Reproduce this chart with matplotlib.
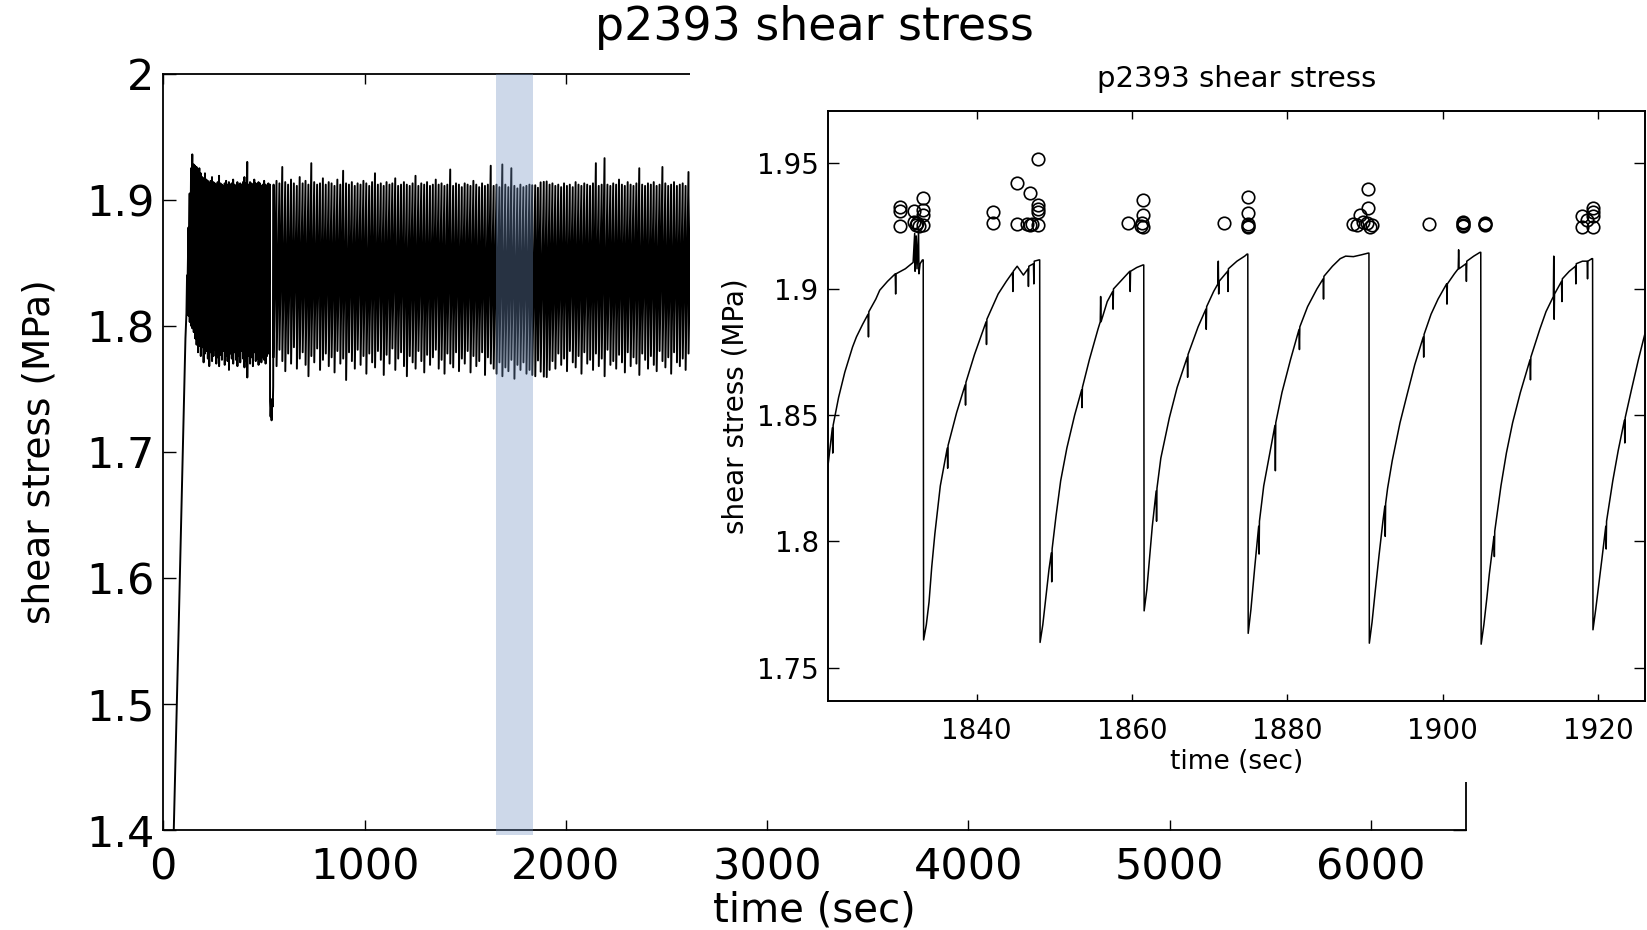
import numpy as np
import matplotlib
matplotlib.use("Agg")
import matplotlib.pyplot as plt
from matplotlib.patches import Rectangle

# ---------------- data ----------------
# initial loading ramp (sec, MPa)
load_t = [52, 64, 76, 88, 98, 104, 110, 115]
load_v = [1.400, 1.478, 1.558, 1.640, 1.705, 1.750, 1.790, 1.810]

# early stick-slip block: slip time, stress before slip, stress after slip
early_t = [118, 125, 131, 138, 144, 151, 158, 165, 172, 179,
           186, 193, 200, 207, 214, 221, 228, 235, 242, 249,
           256, 263, 270, 277, 284, 291, 298, 305, 312, 319,
           326, 333, 340, 347, 354, 361, 368, 375, 382, 389,
           396, 403, 410, 417, 424, 431, 438, 445, 452, 459,
           466, 473, 480, 487, 494, 501, 508, 515, 522, 530]
early_peak = [1.840, 1.878, 1.905, 1.925, 1.936, 1.928, 1.927, 1.926, 1.924, 1.925,
              1.921, 1.918, 1.917, 1.921, 1.916, 1.915, 1.913, 1.915, 1.918, 1.914,
              1.913, 1.912, 1.914, 1.919, 1.913, 1.912, 1.911, 1.913, 1.915, 1.912,
              1.914, 1.912, 1.913, 1.916, 1.912, 1.911, 1.914, 1.912, 1.913, 1.912,
              1.914, 1.918, 1.913, 1.930, 1.912, 1.914, 1.913, 1.912, 1.916, 1.913,
              1.912, 1.914, 1.913, 1.911, 1.912, 1.915, 1.912, 1.911, 1.913, 1.912]
early_trough = [1.812, 1.808, 1.803, 1.800, 1.798, 1.795, 1.790, 1.785, 1.779, 1.784,
                1.776, 1.783, 1.771, 1.778, 1.780, 1.774, 1.768, 1.779, 1.772, 1.776,
                1.781, 1.770, 1.775, 1.768, 1.777, 1.773, 1.780, 1.769, 1.776, 1.772,
                1.765, 1.778, 1.774, 1.770, 1.779, 1.773, 1.768, 1.776, 1.771, 1.780,
                1.774, 1.767, 1.772, 1.759, 1.776, 1.770, 1.775, 1.768, 1.779, 1.772,
                1.774, 1.769, 1.777, 1.771, 1.775, 1.773, 1.770, 1.776, 1.778, 1.740]

# stress dip around 530-546 s
dip_t = [533, 536, 538, 541, 544, 546]
dip_v = [1.728, 1.738, 1.725, 1.742, 1.736, 1.752]

# later stick-slip block
late_t = [548.0, 562.5, 577.0, 591.2, 605.9, 620.1, 634.6, 648.8, 663.5, 677.7,
          692.3, 706.6, 721.0, 735.4, 749.8, 764.3, 778.5, 793.0, 807.2, 821.9,
          836.1, 850.6, 864.9, 879.4, 893.6, 908.1, 922.5, 936.8, 951.3, 965.5,
          980.0, 994.4, 1008.7, 1023.2, 1037.4, 1051.9, 1066.2, 1080.6, 1095.1, 1109.3,
          1123.8, 1138.0, 1152.5, 1166.9, 1181.2, 1195.6, 1210.0, 1224.4, 1238.7, 1253.2,
          1267.5, 1281.9, 1296.3, 1310.6, 1325.1, 1339.4, 1353.8, 1368.2, 1382.5, 1397.0,
          1411.3, 1425.7, 1440.1, 1454.4, 1468.9, 1483.2, 1497.6, 1512.0, 1526.3, 1540.8,
          1555.1, 1569.5, 1583.9, 1598.2, 1612.7, 1627.0, 1641.4, 1655.8, 1670.1, 1684.6,
          1699.5, 1714.5, 1729.4, 1744.4, 1759.4, 1774.4, 1789.3, 1804.3, 1819.3, 1833.1,
          1848.1, 1861.5, 1874.9, 1890.5, 1904.9, 1919.3, 1933.6, 1948.0, 1962.5, 1976.8,
          1991.2, 2005.6, 2019.9, 2034.4, 2048.7, 2063.1, 2077.5, 2091.8, 2106.3, 2120.6,
          2135.0, 2149.4, 2163.7, 2178.2, 2192.5, 2206.9, 2221.3, 2235.6, 2250.1, 2264.4,
          2278.8, 2293.2, 2307.5, 2322.0, 2336.3, 2350.7, 2365.1, 2379.4, 2393.9, 2408.2,
          2422.6, 2437.0, 2451.3, 2465.8, 2480.1, 2494.5, 2508.9, 2523.2, 2537.7, 2552.0,
          2566.4, 2580.8, 2595.1, 2609.6, 2623.9, 2638.3]
late_peak = [1.912, 1.915, 1.913, 1.926, 1.914, 1.912, 1.916, 1.913, 1.911, 1.918,
             1.913, 1.915, 1.912, 1.929, 1.914, 1.912, 1.913, 1.917, 1.912, 1.914,
             1.913, 1.911, 1.916, 1.912, 1.923, 1.913, 1.912, 1.914, 1.911, 1.913,
             1.912, 1.915, 1.913, 1.911, 1.914, 1.921, 1.912, 1.913, 1.911, 1.914,
             1.912, 1.913, 1.917, 1.911, 1.912, 1.914, 1.912, 1.911, 1.913, 1.919,
             1.911, 1.913, 1.912, 1.914, 1.911, 1.912, 1.916, 1.912, 1.913, 1.911,
             1.912, 1.924, 1.911, 1.913, 1.912, 1.910, 1.913, 1.912, 1.911, 1.915,
             1.912, 1.910, 1.913, 1.911, 1.912, 1.927, 1.911, 1.912, 1.910, 1.928,
             1.912, 1.910, 1.925, 1.911, 1.909, 1.912, 1.910, 1.911, 1.912, 1.9115,
             1.9115, 1.9095, 1.9138, 1.9142, 1.9145, 1.912, 1.913, 1.911, 1.912, 1.910,
             1.913, 1.911, 1.912, 1.910, 1.914, 1.912, 1.911, 1.913, 1.912, 1.911,
             1.913, 1.929, 1.911, 1.912, 1.933, 1.912, 1.911, 1.913, 1.912, 1.916,
             1.912, 1.911, 1.914, 1.912, 1.911, 1.913, 1.925, 1.912, 1.911, 1.913,
             1.912, 1.914, 1.911, 1.912, 1.926, 1.913, 1.911, 1.912, 1.914, 1.911,
             1.912, 1.913, 1.911, 1.922, 1.924, 1.912]
late_trough = [1.775, 1.768, 1.781, 1.772, 1.764, 1.778, 1.770, 1.783, 1.766, 1.774,
               1.779, 1.769, 1.760, 1.776, 1.771, 1.782, 1.765, 1.773, 1.778, 1.768,
               1.775, 1.763, 1.780, 1.770, 1.774, 1.757, 1.779, 1.772, 1.766, 1.781,
               1.769, 1.776, 1.762, 1.778, 1.771, 1.767, 1.780, 1.773, 1.761, 1.777,
               1.770, 1.782, 1.765, 1.774, 1.779, 1.768, 1.760, 1.776, 1.771, 1.766,
               1.780, 1.772, 1.763, 1.777, 1.769, 1.775, 1.781, 1.766, 1.773, 1.762,
               1.778, 1.770, 1.767, 1.779, 1.764, 1.774, 1.770, 1.780, 1.763, 1.776,
               1.768, 1.772, 1.779, 1.761, 1.775, 1.770, 1.766, 1.762, 1.771, 1.760,
               1.767, 1.764, 1.773, 1.758, 1.769, 1.765, 1.771, 1.762, 1.765, 1.761,
               1.760, 1.7725, 1.7636, 1.7597, 1.7593, 1.765, 1.772, 1.766, 1.778, 1.769,
               1.774, 1.764, 1.780, 1.771, 1.767, 1.776, 1.762, 1.779, 1.770, 1.773,
               1.765, 1.778, 1.768, 1.774, 1.760, 1.781, 1.769, 1.772, 1.766, 1.777,
               1.771, 1.763, 1.779, 1.768, 1.775, 1.770, 1.761, 1.778, 1.773, 1.766,
               1.776, 1.769, 1.764, 1.780, 1.772, 1.767, 1.775, 1.762, 1.779, 1.771,
               1.768, 1.774, 1.765, 1.778, 1.770, 1.773]

# zoomed trace 1819-1927 s, one pair of lists per stick-slip cycle
cyc0_t = [1819.3, 1819.35, 1819.8, 1820.3, 1820.8, 1821.4, 1821.45, 1821.5, 1822.2, 1823.0,
          1824.0, 1824.5, 1825.3, 1826.0, 1826.05, 1826.1, 1827.0, 1827.5, 1828.5, 1829.5,
          1829.55, 1829.6, 1830.8, 1831.8, 1832.0, 1832.05, 1832.2, 1832.3, 1832.5, 1832.55,
          1832.7, 1833.0, 1833.1]
cyc0_v = [1.909, 1.765, 1.785, 1.808, 1.829, 1.845, 1.835, 1.846, 1.857, 1.867,
          1.877, 1.881, 1.886, 1.890, 1.881, 1.891, 1.896, 1.8995, 1.903, 1.906,
          1.898, 1.906, 1.908, 1.9105, 1.922, 1.907, 1.921, 1.908, 1.923, 1.906,
          1.910, 1.9115, 1.9115]
cyc1_t = [1833.15, 1833.5, 1833.85, 1834.2, 1834.6, 1835.3, 1836.2, 1836.25, 1836.3, 1837.4,
          1838.5, 1838.55, 1838.6, 1839.7, 1840.5, 1841.2, 1841.25, 1841.3, 1842.75, 1843.8,
          1844.6, 1844.65, 1844.7, 1845.2, 1846.0, 1846.6, 1846.65, 1846.7, 1847.3, 1847.35,
          1847.4, 1848.0, 1848.1]
cyc1_v = [1.761, 1.767, 1.776, 1.790, 1.803, 1.822, 1.837, 1.829, 1.838, 1.851,
          1.862, 1.854, 1.863, 1.874, 1.881, 1.887, 1.878, 1.888, 1.898, 1.903,
          1.9065, 1.899, 1.907, 1.909, 1.9055, 1.908, 1.901, 1.909, 1.910, 1.902,
          1.911, 1.9115, 1.9115]
cyc2_t = [1848.15, 1848.5, 1848.9, 1849.3, 1849.6, 1849.65, 1849.7, 1850.2, 1850.8, 1851.6,
          1852.6, 1853.5, 1853.55, 1853.6, 1854.5, 1855.6, 1855.9, 1855.95, 1856.0, 1856.8,
          1857.5, 1857.55, 1857.6, 1858.8, 1859.7, 1859.75, 1859.8, 1860.6, 1861.4, 1861.5]
cyc2_v = [1.760, 1.767, 1.778, 1.789, 1.7955, 1.784, 1.797, 1.810, 1.824, 1.837,
          1.850, 1.860, 1.853, 1.861, 1.872, 1.884, 1.887, 1.897, 1.887, 1.895,
          1.899, 1.892, 1.900, 1.904, 1.907, 1.899, 1.907, 1.9085, 1.9095, 1.9095]
cyc3_t = [1861.55, 1861.9, 1862.3, 1862.6, 1863.1, 1863.15, 1863.2, 1863.7, 1864.8, 1865.8,
          1867.1, 1867.15, 1867.2, 1868.5, 1869.5, 1869.55, 1869.6, 1870.5, 1871.05, 1871.1,
          1871.15, 1871.2, 1872.3, 1872.35, 1872.4, 1873.5, 1874.5, 1874.8, 1874.9]
cyc3_v = [1.7725, 1.781, 1.795, 1.806, 1.820, 1.808, 1.821, 1.833, 1.849, 1.861,
          1.873, 1.865, 1.874, 1.885, 1.892, 1.884, 1.893, 1.899, 1.902, 1.911,
          1.898, 1.903, 1.907, 1.899, 1.908, 1.911, 1.913, 1.9138, 1.9138]
cyc4_t = [1874.95, 1875.3, 1875.8, 1876.3, 1876.35, 1876.4, 1876.95, 1877.8, 1878.4, 1878.45,
          1878.5, 1879.3, 1880.4, 1881.5, 1881.55, 1881.6, 1882.6, 1883.8, 1884.6, 1884.65,
          1884.7, 1885.8, 1886.8, 1887.5, 1888.5, 1889.5, 1890.4, 1890.5]
cyc4_v = [1.7636, 1.773, 1.790, 1.806, 1.795, 1.808, 1.822, 1.836, 1.846, 1.828,
          1.847, 1.859, 1.872, 1.884, 1.876, 1.885, 1.893, 1.900, 1.904, 1.896,
          1.905, 1.909, 1.912, 1.913, 1.9128, 1.9135, 1.9142, 1.9142]
cyc5_t = [1890.55, 1890.9, 1891.3, 1891.8, 1892.3, 1892.55, 1892.6, 1892.65, 1892.9, 1893.5,
          1894.5, 1895.4, 1896.4, 1897.5, 1897.55, 1897.6, 1898.5, 1899.4, 1900.5, 1900.55,
          1900.6, 1901.5, 1902.0, 1902.05, 1902.1, 1903.0, 1903.05, 1903.1, 1904.0, 1904.8,
          1904.9]
cyc5_v = [1.7597, 1.768, 1.780, 1.7945, 1.808, 1.814, 1.802, 1.815, 1.821, 1.832,
          1.847, 1.858, 1.870, 1.881, 1.873, 1.882, 1.890, 1.896, 1.902, 1.894,
          1.902, 1.906, 1.908, 1.9155, 1.908, 1.910, 1.903, 1.911, 1.913, 1.9145,
          1.9145]
cyc6_t = [1904.95, 1905.3, 1905.7, 1906.0, 1906.6, 1906.65, 1906.7, 1907.5, 1908.2, 1909.0,
          1910.0, 1911.25, 1911.3, 1911.35, 1912.5, 1913.3, 1914.25, 1914.3, 1914.35, 1914.4,
          1915.3, 1915.35, 1915.4, 1916.3, 1917.1, 1917.15, 1917.2, 1918.0, 1918.6, 1918.65,
          1918.7, 1919.2, 1919.3]
cyc6_v = [1.7593, 1.767, 1.778, 1.787, 1.802, 1.794, 1.804, 1.822, 1.835, 1.847,
          1.859, 1.872, 1.864, 1.873, 1.884, 1.891, 1.897, 1.913, 1.888, 1.898,
          1.903, 1.895, 1.904, 1.907, 1.909, 1.902, 1.910, 1.911, 1.911, 1.904,
          1.911, 1.912, 1.912]
cyc7_t = [1919.35, 1919.7, 1920.1, 1920.5, 1921.0, 1921.05, 1921.1, 1921.9, 1922.6, 1923.4,
          1923.45, 1923.5, 1924.3, 1925.2, 1926.1, 1927.0]
cyc7_v = [1.765, 1.773, 1.783, 1.793, 1.806, 1.797, 1.808, 1.824, 1.836, 1.848,
          1.839, 1.849, 1.860, 1.872, 1.883, 1.892]

# picked events (open circles)
event_t = [1830.14, 1830.14, 1830.14, 1831.94, 1831.94, 1832.3, 1832.6, 1832.2,
           1833.06, 1833.06, 1833.06, 1833.06,
           1842.07, 1842.07, 1845.24, 1845.24, 1846.79, 1846.5, 1846.8, 1847.1,
           1847.94, 1847.94, 1847.94, 1847.94, 1847.94,
           1859.53, 1861.38, 1861.38, 1861.3, 1861.1, 1861.38,
           1871.84, 1874.89, 1874.89, 1874.89, 1874.89, 1874.89,
           1888.48, 1889.34, 1889.77, 1890.63, 1890.2, 1890.41, 1890.41, 1889.0, 1890.9,
           1898.27, 1902.64, 1902.64, 1902.64, 1902.64, 1905.43, 1905.43, 1905.43,
           1918.0, 1918.0, 1918.6, 1919.29, 1919.29, 1919.29, 1919.29]
event_v = [1.9324, 1.9307, 1.9250, 1.9307, 1.9267, 1.9262, 1.9250, 1.9254,
           1.9361, 1.9314, 1.9294, 1.9254,
           1.9303, 1.9261, 1.9420, 1.9257, 1.9380, 1.9257, 1.9254, 1.9257,
           1.9515, 1.9334, 1.9317, 1.9303, 1.9254,
           1.9261, 1.9353, 1.9294, 1.9260, 1.9250, 1.9247,
           1.9261, 1.9366, 1.9300, 1.9259, 1.9250, 1.9247,
           1.9258, 1.9294, 1.9267, 1.9247, 1.9260, 1.9395, 1.9320, 1.9254, 1.9254,
           1.9258, 1.9262, 1.9255, 1.9250, 1.9266, 1.9260, 1.9252, 1.9256,
           1.9289, 1.9247, 1.9275, 1.9320, 1.9289, 1.9247, 1.9305]

# highlighted time window on the long record
band_t = [1652, 1836]

main_xticks = [0, 1000, 2000, 3000, 4000, 5000, 6000]
main_yticks = [1.4, 1.5, 1.6, 1.7, 1.8, 1.9, 2.0]
main_ylabels = ['1.4', '1.5', '1.6', '1.7', '1.8', '1.9', '2']
inset_xticks = [1840, 1860, 1880, 1900, 1920]
inset_yticks = [1.75, 1.80, 1.85, 1.90, 1.95]
inset_ylabels = ['1.75', '1.8', '1.85', '1.9', '1.95']

# ---------------- build the traces ----------------
main_t = list(load_t)
main_v = list(load_v)
for t, p, q in zip(early_t, early_peak, early_trough):
    main_t += [t, t + 0.3]
    main_v += [p, q]
main_t += dip_t
main_v += dip_v
for t, p, q in zip(late_t, late_peak, late_trough):
    main_t += [t, t + 0.3]
    main_v += [p, q]

inset_t = cyc0_t + cyc1_t + cyc2_t + cyc3_t + cyc4_t + cyc5_t + cyc6_t + cyc7_t
inset_v = cyc0_v + cyc1_v + cyc2_v + cyc3_v + cyc4_v + cyc5_v + cyc6_v + cyc7_v

# ---------------- figure ----------------
W, H = 1647, 930
fig = plt.figure(figsize=(W / 100, H / 100), dpi=100)

ax = fig.add_axes([163.3 / W, 1 - 830 / H, (1466 - 163.3) / W, (830 - 73.7) / H])
ax.plot(main_t, main_v, color='k', lw=1.4, zorder=2)
ax.axvspan(band_t[0], band_t[1], ymin=-0.007, ymax=1, color='#7090c0',
           alpha=0.35, lw=0, zorder=3, clip_on=False)
ax.set_xlim(0, 6473)
ax.set_ylim(1.4, 2.0)
ax.set_xticks(main_xticks)
ax.set_yticks(main_yticks)
ax.set_yticklabels(main_ylabels)
ax.tick_params(direction='in', top=True, right=True, labelsize=31, width=1.0)
ax.tick_params(axis='x', length=7.2, pad=12)
ax.tick_params(axis='y', length=9.5, pad=6.5)
for s in ax.spines.values():
    s.set_linewidth(1.3)
ax.set_xlabel('time (sec)', fontsize=29, va='center')
ax.xaxis.set_label_coords(0.5, -0.1071)
ax.set_ylabel('shear stress (MPa)', fontsize=27, va='center')
ax.yaxis.set_label_coords(-0.0947, 0.5)

fig.text(814 / W, 1 - 28 / H, 'p2393 shear stress', ha='center', va='center',
         fontsize=33, zorder=5)

# white panel that hides the right part of the long record
fig.add_artist(Rectangle((690 / W, 1 - 782 / H), (W - 690) / W, (782 - 62) / H,
                         transform=fig.transFigure, facecolor='white',
                         edgecolor='none', zorder=1))

axi = fig.add_axes([827.7 / W, 1 - 701 / H, (1645 - 827.7) / W, (701 - 110.7) / H])
axi.set_zorder(2)
axi.plot(inset_t, inset_v, color='k', lw=1.1)
axi.plot(event_t, event_v, 'o', mfc='none', mec='k', ms=9, mew=1.2)
axi.set_xlim(1820.8, 1926.05)
axi.set_ylim(1.7368, 1.9706)
axi.set_xticks(inset_xticks)
axi.set_yticks(inset_yticks)
axi.set_yticklabels(inset_ylabels)
axi.tick_params(direction='in', top=True, right=True, labelsize=20, width=1.0)
axi.tick_params(axis='x', length=5.4, pad=11.5)
axi.tick_params(axis='y', length=7.6, pad=6.5)
for s in axi.spines.values():
    s.set_linewidth(1.4)
axi.text(0.5, 1.0537, 'p2393 shear stress', transform=axi.transAxes,
         ha='center', va='center', fontsize=21)
axi.set_xlabel('time (sec)', fontsize=19, va='center')
axi.xaxis.set_label_coords(0.5, -0.1028)
axi.set_ylabel('shear stress (MPa)', fontsize=20, va='center')
axi.yaxis.set_label_coords(-0.1134, 0.5)

fig.savefig('out.png', dpi=100)
